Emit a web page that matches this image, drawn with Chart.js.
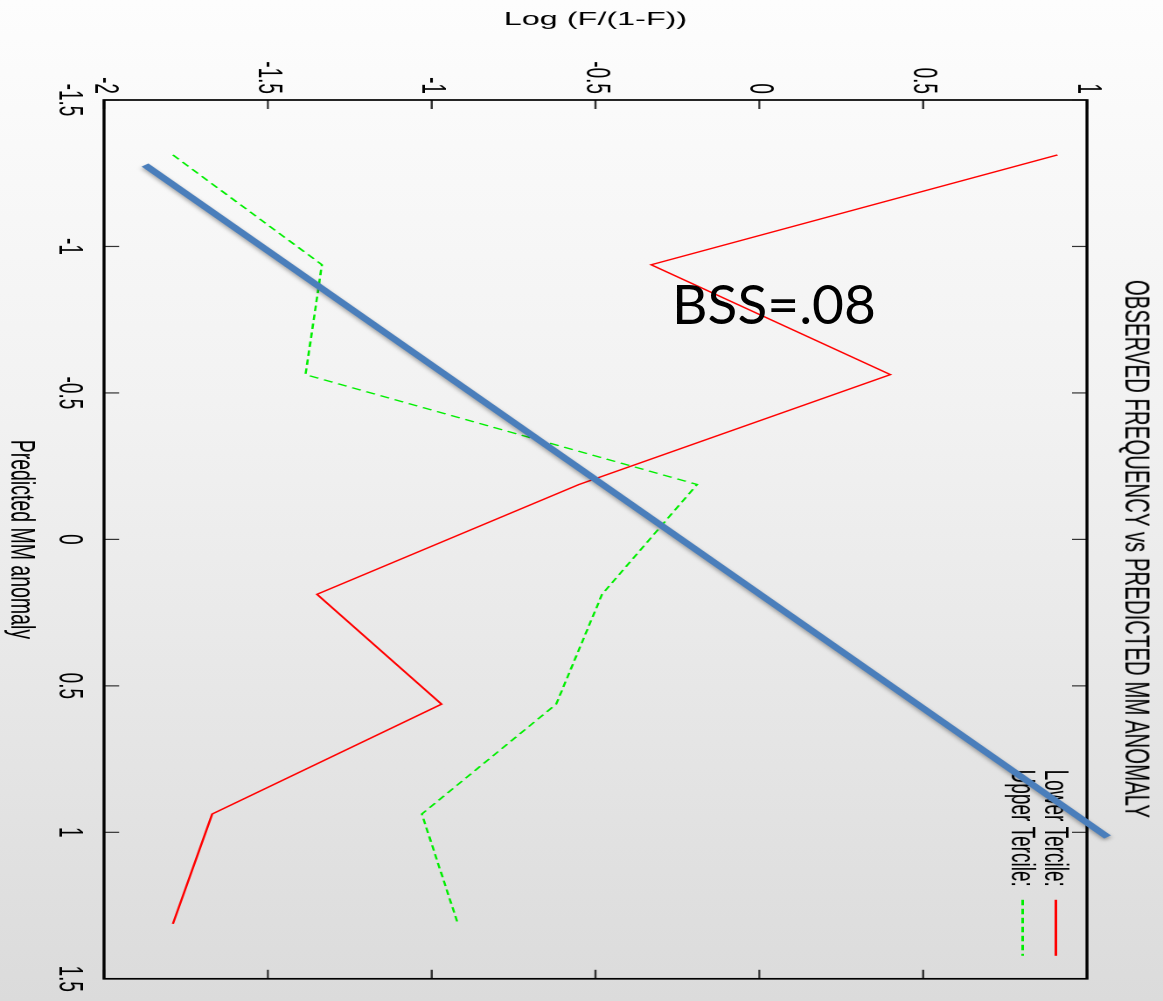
<!DOCTYPE html>
<html>
<head>
<meta charset="utf-8">
<script src="https://cdn.jsdelivr.net/npm/chart.js@4.4.1/dist/chart.umd.min.js"></script>
<style>
  html, body { margin:0; padding:0; }
  body { width:1163px; height:1001px; overflow:hidden; position:relative;
         background: linear-gradient(to bottom, #fdfdfd 0%, #f2f2f2 40%, #dbdbdb 100%); }
  #rot { position:absolute; left:0; top:0; width:1001px; height:665px;
         transform-origin:0 0; transform: translateX(1163px) scaleX(1.7489) rotate(90deg); }
  #title { position:absolute; left:1137px; top:549px; transform: translate(-50%,-50%) scaleX(1.7489) rotate(90deg);
           white-space:nowrap; font: 20.4px "Liberation Sans", Arial, sans-serif; line-height:1.2; color:#000; }
  #bss { position:absolute; left:672px; top:276px; white-space:nowrap;
         font: 55px Lato, "Open Sans", sans-serif; line-height:1; color:#000; }
</style>
</head>
<body>
<div id="rot"><canvas id="c" width="1001" height="665"></canvas></div>
<div id="title">OBSERVED FREQUENCY vs PREDICTED MM ANOMALY</div>
<div id="bss">BSS=.08</div>
<script>
// ---- data ----
const xValues = [-1.3125, -0.9375, -0.5625, -0.1875, 0.1875, 0.5625, 0.9375, 1.3125];
const lowerTercile = [0.91, -0.33, 0.40, -0.55, -1.35, -0.97, -1.67, -1.79];
const upperTercile = [-1.79, -1.335, -1.385, -0.19, -0.48, -0.62, -1.03, -0.92];
const fitX = [-1.278, 1.016];
const fitY = [-1.875, 1.063];
const xTicks = [-1.5, -1, -0.5, 0, 0.5, 1, 1.5];
const yTicks = [-2, -1.5, -1, -0.5, 0, 0.5, 1];
const seriesNames = ['Lower Tercile:', 'Upper Tercile:'];

const S = 1.7489; // screen stretch along oy
const FONT = '"Liberation Sans", Arial, sans-serif';

const pts = (xs, ys) => xs.map((x, i) => ({x, y: ys[i]}));

const framePlugin = {
  id: 'frame',
  beforeDatasetDraw(chart, args) {
    if (args.index === 0) {
      const ctx = chart.ctx;
      ctx.save();
      ctx.shadowColor = 'rgba(0,0,0,0.35)';
      ctx.shadowBlur = 6;
      ctx.shadowOffsetX = 4;
      ctx.shadowOffsetY = 0;
    }
  },
  afterDatasetDraw(chart, args) {
    if (args.index === 0) chart.ctx.restore();
  },
  beforeDatasetsDraw(chart) {
    const {ctx, chartArea: a, scales} = chart;
    ctx.save();
    // inward ticks
    ctx.strokeStyle = '#333';
    ctx.lineWidth = 1.2;
    const tlx = 15 / S, tly = 9;
    xTicks.forEach(v => {
      const p = scales.x.getPixelForValue(v);
      ctx.beginPath();
      ctx.moveTo(p, a.top); ctx.lineTo(p, a.top + tlx);
      ctx.moveTo(p, a.bottom); ctx.lineTo(p, a.bottom - tlx);
      ctx.stroke();
    });
    yTicks.forEach(v => {
      const p = scales.y.getPixelForValue(v);
      ctx.beginPath();
      ctx.moveTo(a.left, p); ctx.lineTo(a.left + tly, p);
      ctx.moveTo(a.right, p); ctx.lineTo(a.right - tly, p);
      ctx.stroke();
    });
    // frame
    ctx.strokeStyle = '#000';
    ctx.lineWidth = 1.7;
    ctx.strokeRect(a.left, a.top, a.right - a.left, a.bottom - a.top);
    // gnuplot-style key
    ctx.font = '19px ' + FONT;
    ctx.fillStyle = '#000';
    ctx.textAlign = 'right';
    ctx.textBaseline = 'middle';
    const keyRows = [
      {name: seriesNames[0], color: '#ff0000', dash: [], oy: a.top + 17.8},
      {name: seriesNames[1], color: '#00ee00', dash: [5.5, 3.5], oy: a.top + 36.8}
    ];
    keyRows.forEach(r => {
      ctx.fillText(r.name, a.right - 92, r.oy + 1);
      ctx.beginPath();
      ctx.strokeStyle = r.color;
      ctx.lineWidth = 1.4;
      ctx.setLineDash(r.dash);
      ctx.moveTo(a.right - 79, r.oy);
      ctx.lineTo(a.right - 23, r.oy);
      ctx.stroke();
      ctx.setLineDash([]);
    });
    ctx.restore();
  }
};

new Chart(document.getElementById('c'), {
  type: 'scatter',
  data: {
    datasets: [
      { label: 'Fit', data: pts(fitX, fitY), showLine: true, borderColor: '#4a7ebb',
        borderWidth: 5, pointRadius: 0, clip: false, order: 0, borderCapStyle: 'butt' },
      { label: 'Lower Tercile', data: pts(xValues, lowerTercile), showLine: true,
        borderColor: '#ff0000', borderWidth: 1.3, pointRadius: 0, order: 1 },
      { label: 'Upper Tercile', data: pts(xValues, upperTercile), showLine: true,
        borderColor: '#00ee00', borderWidth: 1.3, borderDash: [5.5, 3.5], pointRadius: 0, order: 2 }
    ]
  },
  options: {
    responsive: false,
    animation: false,
    devicePixelRatio: 2,
    layout: { padding: { top: 43.46, right: 21, left: 0, bottom: 0 } },
    plugins: { legend: { display: false }, tooltip: { enabled: false } },
    scales: {
      x: {
        type: 'linear', min: -1.5, max: 1.5,
        afterBuildTicks: s => { s.ticks = xTicks.map(v => ({value: v})); },
        afterFit: s => { s.height = 59.5; },
        grid: { display: false, drawTicks: false },
        border: { display: false },
        ticks: { padding: 9, color: '#000', font: { family: FONT, size: 19 }, maxRotation: 0,
                 callback: v => String(v) },
        title: { display: true, text: 'Predicted MM anomaly', color: '#000',
                 font: { family: FONT, size: 19.5 }, padding: { top: 0, bottom: 0 } }
      },
      y: {
        type: 'linear', min: -2, max: 1,
        afterBuildTicks: s => { s.ticks = yTicks.map(v => ({value: v})); },
        afterFit: s => { s.width = 100; },
        grid: { display: false, drawTicks: false },
        border: { display: false },
        ticks: { padding: 6, color: '#000', font: { family: FONT, size: 19 },
                 callback: v => String(v) },
        title: { display: true, text: 'Log (F/(1-F))', color: '#000',
                 font: { family: FONT, size: 18.5 }, padding: { top: 9, bottom: 0 } }
      }
    }
  },
  plugins: [framePlugin]
});
</script>
</body>
</html>
